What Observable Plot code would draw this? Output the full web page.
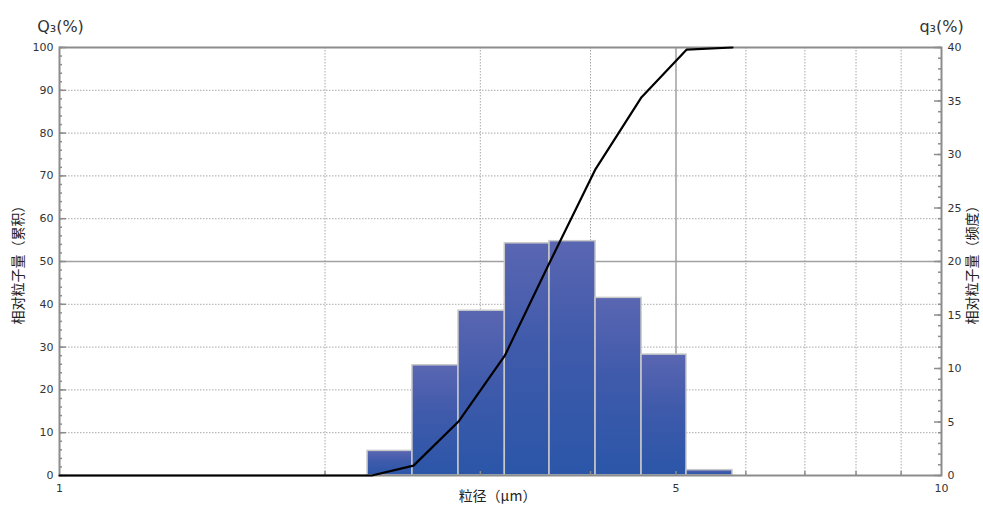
<!DOCTYPE html>
<html>
<head>
<meta charset="utf-8">
<script src="https://cdn.jsdelivr.net/npm/d3@7"></script>
<script src="https://cdn.jsdelivr.net/npm/@observablehq/plot@0.6"></script>
<style>
  html, body { margin: 0; padding: 0; background: #fff; }
  #chart { width: 983px; height: 513px; }
</style>
</head>
<body>
<div id="chart"></div>
<script>
// Histogram bin edges (µm) and frequency q3 (%)
const binLower = [2.235, 2.513, 2.834, 3.198, 3.594, 4.053, 4.570, 5.139];
const binUpper = [2.513, 2.834, 3.198, 3.594, 4.053, 4.570, 5.139, 5.795];
const q3 = [2.3, 10.3, 15.4, 21.7, 21.9, 16.6, 11.3, 0.5];

// Cumulative Q3 (%) line points
const cumX = [1, 2.26, 2.52, 2.834, 3.198, 3.594, 4.053, 4.570, 5.139, 5.795];
const cumQ = [0, 0, 2.3, 12.6, 28.0, 49.7, 71.6, 88.4, 99.5, 100];

// Axis ticks
const leftTicks = [0, 10, 20, 30, 40, 50, 60, 70, 80, 90, 100];
const rightTicks = [0, 5, 10, 15, 20, 25, 30, 35, 40];
const xTicks = [1, 5, 10];
const xGridDotted = [2, 3, 4, 6, 7, 8, 9];
const xGridSolid = [5];
const yGridDotted = [10, 20, 30, 40, 60, 70, 80, 90];
const yGridSolid = [50];
const leftMinor = d3.range(0, 101, 2);
const rightMinor = d3.range(0, 41, 1);

const RATIO = 100 / 40; // right axis -> left axis

const bars = binLower.map((lo, i) => ({lo, hi: binUpper[i], q: q3[i]}));
const cum = cumX.map((x, i) => ({x, y: cumQ[i]}));

const font = "DejaVu Sans, sans-serif";
const cjk = "Noto Sans CJK SC, sans-serif";

const plot = Plot.plot({
  width: 983,
  height: 513,
  marginLeft: 59,
  marginRight: 42,
  marginTop: 47,
  marginBottom: 38,
  style: {fontFamily: font, fontSize: "11px", color: "#333", background: "#fff"},
  x: {type: "log", domain: [1, 10]},
  y: {domain: [0, 100]},
  marks: [
    // grid
    Plot.ruleY(yGridDotted, {stroke: "#a8a8a8", strokeWidth: 1, strokeDasharray: "1.5,1.5"}),
    Plot.ruleY(yGridSolid, {stroke: "#a0a0a0", strokeWidth: 1.5}),
    Plot.ruleX(xGridDotted, {stroke: "#a8a8a8", strokeWidth: 1, strokeDasharray: "1.5,1.5"}),
    Plot.ruleX(xGridSolid, {stroke: "#a0a0a0", strokeWidth: 1.5}),
    // bars
    Plot.rect(bars, {
      x1: "lo", x2: "hi", y1: 0, y2: d => d.q * RATIO,
      fill: "url(#barGrad)", stroke: "#c8c8c8", strokeWidth: 1.5
    }),
    // frame
    Plot.frame({stroke: "#8c8c8c", strokeWidth: 2}),
    // minor ticks inside
    Plot.ruleY(leftMinor, {stroke: "#8c8c8c", strokeWidth: 1.5, insetRight: 879}),
    Plot.ruleY(leftTicks, {stroke: "#8c8c8c", strokeWidth: 1.5, insetRight: 875}),
    Plot.ruleY(rightMinor.map(d => d * RATIO), {stroke: "#8c8c8c", strokeWidth: 1.5, insetLeft: 879}),
    Plot.ruleY(rightTicks.map(d => d * RATIO), {stroke: "#8c8c8c", strokeWidth: 1.5, insetLeft: 875}),
    Plot.ruleX([...xGridDotted, ...xGridSolid], {stroke: "#8c8c8c", strokeWidth: 1.5, insetTop: 424}),
    // cumulative line
    Plot.line(cum, {x: "x", y: "y", stroke: "#000", strokeWidth: 2.2, curve: "linear"}),
    // axes
    Plot.axisY(leftTicks, {anchor: "left", tickSize: 0, tickPadding: 6, label: null, fontSize: 11, fill: "#333"}),
    Plot.axisY(rightTicks.map(d => d * RATIO), {anchor: "right", tickSize: 0, tickPadding: 6, label: null,
      tickFormat: d => String(Math.round(d / RATIO)), fontSize: 11, fill: "#333"}),
    Plot.axisX(xTicks, {anchor: "bottom", tickSize: 0, tickPadding: 9, label: null,
      tickFormat: d => String(d), fontSize: 11, fill: "#333"}),
    // titles
    Plot.text(["Q₃(%)"], {frameAnchor: "top-left", dx: 1, dy: -27, textAnchor: "middle", fontSize: 16, fill: "#333", fontFamily: font}),
    Plot.text(["q₃(%)"], {frameAnchor: "top-right", dx: 0, dy: -27, textAnchor: "middle", fontSize: 16, fill: "#333", fontFamily: font}),
    Plot.text(["相对粒子量（累积）"], {frameAnchor: "left", dx: -41, dy: 0, rotate: -90, textAnchor: "middle", fontSize: 14, fill: "#222", fontFamily: cjk}),
    Plot.text(["相对粒子量（频度）"], {frameAnchor: "right", dx: 31, dy: 0, rotate: -90, textAnchor: "middle", fontSize: 14, fill: "#222", fontFamily: cjk}),
    Plot.text(["粒径（μm）"], {frameAnchor: "bottom", dx: -3, dy: 25, textAnchor: "middle", fontSize: 14, fill: "#222", fontFamily: cjk})
  ]
});

// gradient for bars
const svg = d3.select(plot);
const defs = svg.insert("defs", ":first-child");
const grad = defs.append("linearGradient").attr("id", "barGrad")
  .attr("x1", 0).attr("y1", 0).attr("x2", 0).attr("y2", 1);
grad.append("stop").attr("offset", "0%").attr("stop-color", "#5a66b2");
grad.append("stop").attr("offset", "45%").attr("stop-color", "#3f5aab");
grad.append("stop").attr("offset", "100%").attr("stop-color", "#2b56a8");

document.getElementById("chart").appendChild(plot);
</script>
</body>
</html>
